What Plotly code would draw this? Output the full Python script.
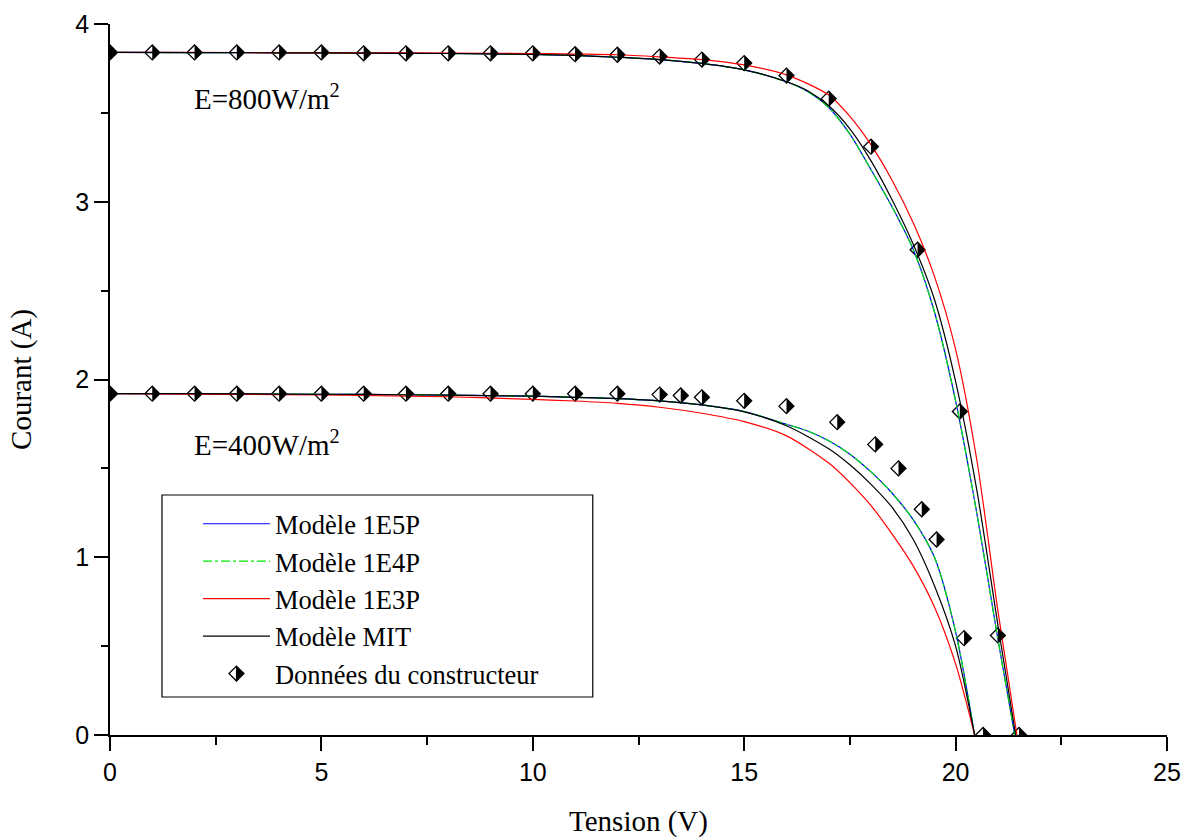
import plotly.graph_objects as go

# ---------------- data ----------------
# Manufacturer data, E = 800 W/m2
v_data_800 = [0, 1, 2, 3, 4, 5, 6, 7, 8, 9, 10, 11, 12, 13, 14, 15, 16, 17, 18.0, 19.1, 20.1, 21.0, 21.5]
i_data_800 = [3.84, 3.84, 3.84, 3.84, 3.84, 3.84, 3.835, 3.835, 3.835, 3.835, 3.835, 3.83, 3.827, 3.817,
              3.80, 3.78, 3.71, 3.58, 3.31, 2.73, 1.82, 0.56, 0.0]
# Manufacturer data, E = 400 W/m2
v_data_400 = [0, 1, 2, 3, 4, 5, 6, 7, 8, 9, 10, 11, 12, 13, 13.5, 14, 15, 16, 17.2, 18.1, 18.65, 19.2, 19.55, 20.2, 20.65]
i_data_400 = [1.92, 1.92, 1.92, 1.92, 1.92, 1.92, 1.92, 1.92, 1.92, 1.92, 1.92, 1.92, 1.92, 1.915, 1.91,
              1.90, 1.88, 1.85, 1.76, 1.635, 1.50, 1.27, 1.10, 0.545, 0.0]

# Model curves, E = 800 W/m2
v_1e5p_800 = [0, 2, 4, 6, 8, 10, 11, 12, 13, 14, 15, 16, 16.5, 17, 17.5, 18, 18.5, 19, 19.5, 20, 20.5, 21, 21.4]
i_1e5p_800 = [3.84, 3.839, 3.838, 3.836, 3.834, 3.829, 3.823, 3.813, 3.80, 3.778, 3.742, 3.675, 3.62, 3.53,
              3.38, 3.18, 2.97, 2.73, 2.38, 1.88, 1.25, 0.54, 0.0]
v_1e4p_800 = [0, 2, 4, 6, 8, 10, 11, 12, 13, 14, 15, 16, 16.5, 17, 17.5, 18, 18.5, 19, 19.5, 20, 20.5, 21, 21.4]
i_1e4p_800 = [3.84, 3.839, 3.838, 3.836, 3.834, 3.829, 3.823, 3.813, 3.80, 3.778, 3.742, 3.675, 3.62, 3.53,
              3.38, 3.18, 2.97, 2.73, 2.38, 1.88, 1.25, 0.54, 0.0]
v_1e3p_800 = [0, 2, 4, 6, 8, 10, 11, 12, 13, 14, 15, 16, 17, 17.5, 18, 18.5, 19, 19.5, 20, 20.5, 21, 21.45]
i_1e3p_800 = [3.84, 3.84, 3.839, 3.838, 3.836, 3.834, 3.831, 3.827, 3.815, 3.80, 3.77, 3.714, 3.60, 3.48,
              3.32, 3.12, 2.88, 2.58, 2.17, 1.55, 0.70, 0.0]
v_mit_800 = [0, 2, 4, 6, 8, 10, 11, 12, 13, 14, 15, 16, 16.5, 17, 17.5, 18, 18.5, 19, 19.5, 20, 20.5, 21, 21.42]
i_mit_800 = [3.84, 3.839, 3.838, 3.836, 3.834, 3.829, 3.823, 3.813, 3.80, 3.778, 3.742, 3.675, 3.625, 3.54,
             3.41, 3.23, 3.01, 2.76, 2.45, 1.99, 1.38, 0.62, 0.0]

# Model curves, E = 400 W/m2
v_1e5p_400 = [0, 2, 4, 6, 8, 10, 11, 12, 13, 14, 15, 16, 16.5, 17, 17.5, 18, 18.5, 19, 19.5, 20, 20.45]
i_1e5p_400 = [1.92, 1.92, 1.918, 1.916, 1.912, 1.906, 1.90, 1.892, 1.88, 1.857, 1.82, 1.748, 1.71, 1.655,
              1.58, 1.48, 1.36, 1.21, 1.00, 0.58, 0.0]
v_1e4p_400 = [0, 2, 4, 6, 8, 10, 11, 12, 13, 14, 15, 16, 16.5, 17, 17.5, 18, 18.5, 19, 19.5, 20, 20.45]
i_1e4p_400 = [1.92, 1.92, 1.918, 1.916, 1.912, 1.906, 1.90, 1.892, 1.88, 1.857, 1.82, 1.748, 1.71, 1.655,
              1.58, 1.48, 1.36, 1.21, 1.00, 0.58, 0.0]
v_1e3p_400 = [0, 2, 4, 6, 8, 10, 11, 12, 13, 14, 15, 16, 17, 17.5, 18, 18.5, 19, 19.5, 20, 20.45]
i_1e3p_400 = [1.92, 1.918, 1.915, 1.91, 1.903, 1.888, 1.879, 1.866, 1.844, 1.81, 1.763, 1.683, 1.53, 1.42,
              1.29, 1.13, 0.95, 0.72, 0.40, 0.0]
v_mit_400 = [0, 2, 4, 6, 8, 10, 11, 12, 13, 14, 15, 16, 17, 17.5, 18, 18.5, 19, 19.5, 20, 20.45]
i_mit_400 = [1.92, 1.92, 1.918, 1.916, 1.912, 1.906, 1.90, 1.892, 1.88, 1.857, 1.818, 1.74, 1.61, 1.52,
             1.41, 1.28, 1.10, 0.84, 0.50, 0.0]

x_ticks = [0, 5, 10, 15, 20, 25]
y_ticks = [0, 1, 2, 3, 4]

SERIF = "Liberation Serif, Times New Roman, serif"
SANS = "Liberation Sans, Arial, sans-serif"

# plot-area geometry (pixels)
L, R_, T, B = 110, 19.5, 24, 103
PW = 1187 - L - R_
PH = 838 - T - B


def px2paper_x(px):
    return (px - L) / PW


def px2paper_y(py):
    return (838 - B - py) / PH


fig = go.Figure()

models = [
    ("Modèle 1E5P", "#0000ff", "solid", (v_1e5p_800, i_1e5p_800), (v_1e5p_400, i_1e5p_400)),
    ("Modèle 1E4P", "#00e600", "dashdot", (v_1e4p_800, i_1e4p_800), (v_1e4p_400, i_1e4p_400)),
    ("Modèle 1E3P", "#ff0000", "solid", (v_1e3p_800, i_1e3p_800), (v_1e3p_400, i_1e3p_400)),
    ("Modèle MIT", "#000000", "solid", (v_mit_800, i_mit_800), (v_mit_400, i_mit_400)),
]

# manufacturer markers first (open diamonds), lines drawn over them
MS = 11.5
fig.add_trace(go.Scatter(x=v_data_800, y=i_data_800, mode="markers", name="Données du constructeur",
                         legendgroup="data", legendrank=5,
                         marker=dict(symbol="diamond-open", size=MS, color="black", line=dict(width=1.3, color="black"))))
fig.add_trace(go.Scatter(x=v_data_400, y=i_data_400, mode="markers", name="Données du constructeur",
                         legendgroup="data", showlegend=False,
                         marker=dict(symbol="diamond-open", size=MS, color="black", line=dict(width=1.3, color="black"))))

for k, (name, color, dash, c800, c400) in enumerate(models):
    for j, (vx, iy) in enumerate((c800, c400)):
        fig.add_trace(go.Scatter(x=vx, y=iy, mode="lines", name=name, legendgroup=name,
                                 legendrank=k + 1, showlegend=(j == 0),
                                 line=dict(color=color, width=1.2, dash=dash, shape="spline", smoothing=0.8)))

# black right half of each manufacturer marker
RH = MS * 0.65
half = f"M0,{-RH:.2f} L{RH:.2f},0 L0,{RH:.2f} Z"
shapes = []
for vx, iy in ((v_data_800, i_data_800), (v_data_400, i_data_400)):
    for a, b in zip(vx, iy):
        shapes.append(dict(type="path", xref="x", yref="y", xsizemode="pixel", ysizemode="pixel",
                           xanchor=a, yanchor=b, path=half, fillcolor="black", line=dict(width=0),
                           layer="above"))

LEG_FONT = 26.5
LEG_TOP = 500
item_h = LEG_FONT * 1.3 + 3
first_c = LEG_TOP + item_h / 2 + 5

# legend frame
shapes.append(dict(type="rect", xref="paper", yref="paper", x0=px2paper_x(162), x1=px2paper_x(593),
                   y0=px2paper_y(697), y1=px2paper_y(495), line=dict(color="black", width=1.2),
                   fillcolor="rgba(0,0,0,0)"))
# black half of the legend marker
shapes.append(dict(type="path", xref="paper", yref="paper", xsizemode="pixel", ysizemode="pixel",
                   xanchor=px2paper_x(236), yanchor=px2paper_y(first_c + 4 * item_h), path=half,
                   fillcolor="black", line=dict(width=0)))

fig.update_layout(
    width=1187, height=838,
    margin=dict(l=L, r=R_, t=T, b=B, pad=0, autoexpand=False),
    paper_bgcolor="white", plot_bgcolor="white",
    showlegend=True,
    legend=dict(x=px2paper_x(198), y=px2paper_y(LEG_TOP), xanchor="left", yanchor="top",
                bgcolor="rgba(0,0,0,0)", borderwidth=0, tracegroupgap=0, itemwidth=67,
                font=dict(family=SERIF, size=LEG_FONT, color="black"), traceorder="normal"),
    xaxis=dict(range=[0, 25], tickvals=x_ticks, ticktext=[str(t) for t in x_ticks], automargin=False,
               showline=True, linecolor="black", linewidth=1.5, ticks="outside", ticklen=14,
               tickwidth=1.5, tickcolor="black", showgrid=False, zeroline=False,
               tickfont=dict(family=SANS, size=25, color="black"),
               minor=dict(dtick=2.5, tick0=0, ticks="outside", ticklen=8, tickwidth=1.5, tickcolor="black",
                          showgrid=False),
               title=dict(text="Tension (V)", font=dict(family=SERIF, size=29, color="black"), standoff=27)),
    yaxis=dict(range=[0, 4], tickvals=y_ticks, ticktext=[str(t) for t in y_ticks], automargin=False,
               showline=True, linecolor="black", linewidth=1.5, ticks="outside", ticklen=14,
               tickwidth=1.5, tickcolor="black", showgrid=False, zeroline=False,
               tickfont=dict(family=SANS, size=25, color="black"),
               minor=dict(dtick=0.5, tick0=0, ticks="outside", ticklen=7, tickwidth=1.5, tickcolor="black",
                          showgrid=False),
               title=dict(text="Courant (A)", font=dict(family=SERIF, size=29, color="black"), standoff=35)),
    shapes=shapes,
    annotations=[
        dict(x=1.95, y=3.59, xref="x", yref="y", text="E=800W/m<sup>2</sup>", showarrow=False,
             xanchor="left", yanchor="middle", font=dict(family=SERIF, size=29, color="black")),
        dict(x=1.95, y=1.64, xref="x", yref="y", text="E=400W/m<sup>2</sup>", showarrow=False,
             xanchor="left", yanchor="middle", font=dict(family=SERIF, size=29, color="black")),
    ],
)

fig.write_html("out.html")
